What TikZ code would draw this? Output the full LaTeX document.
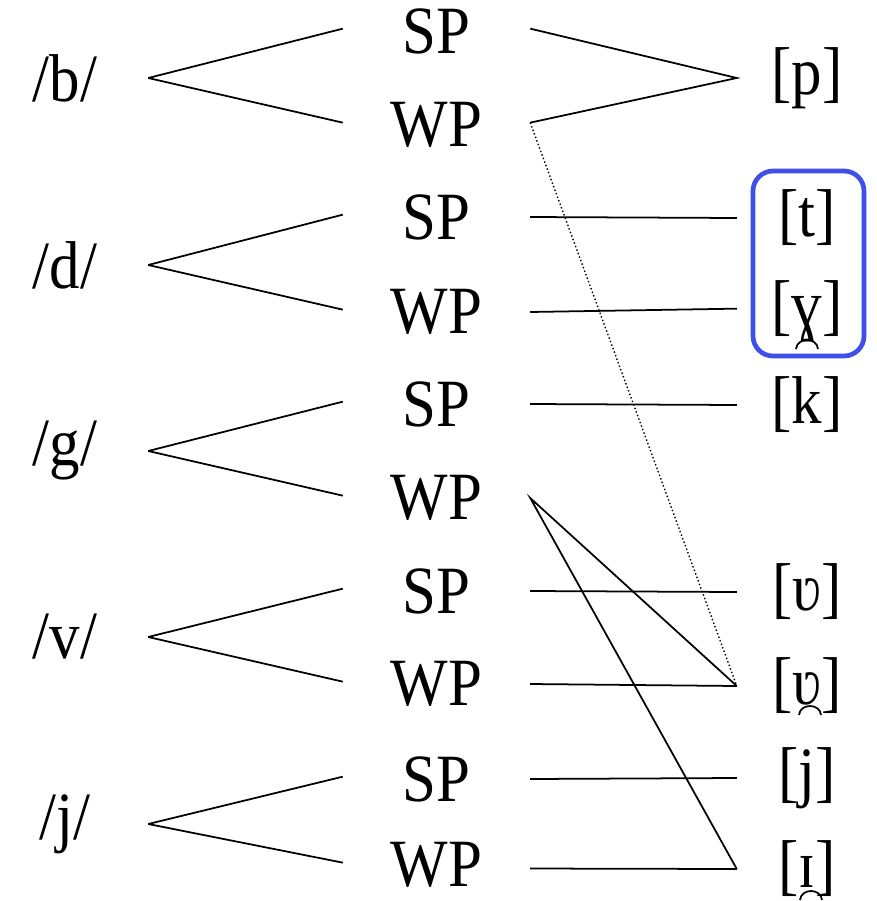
\documentclass[tikz,border=0pt]{standalone}
\usepackage{fontspec}
\usepackage{graphicx}
\setmainfont{Liberation Serif}
\usetikzlibrary{positioning}
\definecolor{boxBlue}{RGB}{62,80,232}
\newcommand{\tall}[1]{\scalebox{1}[1.11]{#1}}
\tikzset{
  phon/.style  = {inner sep=0pt, minimum width=166*0.03cm, font=\fontsize{52}{56}\selectfont},
  posn/.style  = {inner sep=0pt, minimum width=187*0.03cm, font=\fontsize{52}{56}\selectfont},
  real/.style  = {inner sep=0pt, minimum width=140*0.03cm, font=\fontsize{52}{56}\selectfont},
  lnk/.style   = {line width=1.5pt},
  hilite/.style= {draw=boxBlue, line width=4pt, rounded corners=0.6cm}
}
\begin{document}
\begin{tikzpicture}[x=0.03cm, y=-0.03cm]
\useasboundingbox (0,0) rectangle (877,901);
% underlying phonemes
\node[phon] (b) at (65,78) {\tall{/b/}};
\node[phon] (d) at (65,265) {\tall{/d/}};
\node[phon] (g) at (65,451) {\tall{/g/}};
\node[phon] (v) at (65,637) {\tall{/v/}};
\node[phon] (j) at (65,824) {\tall{/j/}};
% positions
\foreach \ph/\ys/\yw in {b/31/125, d/217/312, g/404/498, v/591/684, j/779/865}{
  \node[posn] (\ph SP) at (436.5,\ys) {\tall{SP}};
  \node[posn] (\ph WP) at (436.5,\yw) {\tall{WP}};
  \draw[lnk] (\ph.east) -- ([yshift=2]\ph SP.west);
  \draw[lnk] (\ph.east) -- ([yshift=2]\ph WP.west);
}
% surface forms
\node[real] (p)  at (807,78)  {\tall{[p]}};
\node[real] (t)  at (807,218) {\tall{[t]}};
\node[real] (gg) at (807,311) {\tall{[ɣ]}};
\node[real] (k)  at (807,405) {\tall{[k]}};
\node[real] (w)  at (807,592) {\tall{[ʋ]}};
\node[real] (ww) at (807,686) {\tall{[ʋ]}};
\node[real] (jj) at (807,778) {\tall{[j]}};
\node[real] (ii) at (807,869) {\tall{[ɪ]}};
% non-syllabic marks
\draw[lnk] ([shift={(-11,38)}]gg.center) .. controls +(1,-12) and +(-1,-12) .. ([shift={(11,38)}]gg.center);
\draw[lnk] ([shift={(-8,29)}]ww.center) .. controls +(1,-12) and +(-1,-12) .. ([shift={(14,29)}]ww.center);
\draw[lnk] ([shift={(-7,31)}]ii.center) .. controls +(1,-12) and +(-1,-12) .. ([shift={(15,31)}]ii.center);
\draw[lnk] ([yshift=2]bSP.east) -- (p.west) -- ([yshift=2]bWP.east);
\draw[lnk] (dSP.east) -- (t.west);
\draw[lnk] (dWP.east) -- ([yshift=2]gg.west);
\draw[lnk] (gSP.east) -- (k.west);
\draw[lnk] (ww.west) -- (gWP.east) -- (ii.west);
\draw[lnk] (vSP.east) -- (w.west);
\draw[lnk] (vWP.east) -- (ww.west);
\draw[lnk] (jSP.east) -- (jj.west);
\draw[lnk] ([yshift=-3]jWP.east) -- (ii.west);
\draw[line width=1.2pt, dotted] ([yshift=2]bWP.east) -- (ww.west);
% highlight
\draw[hilite] (753,171) rectangle (864,356);
\end{tikzpicture}
\end{document}
